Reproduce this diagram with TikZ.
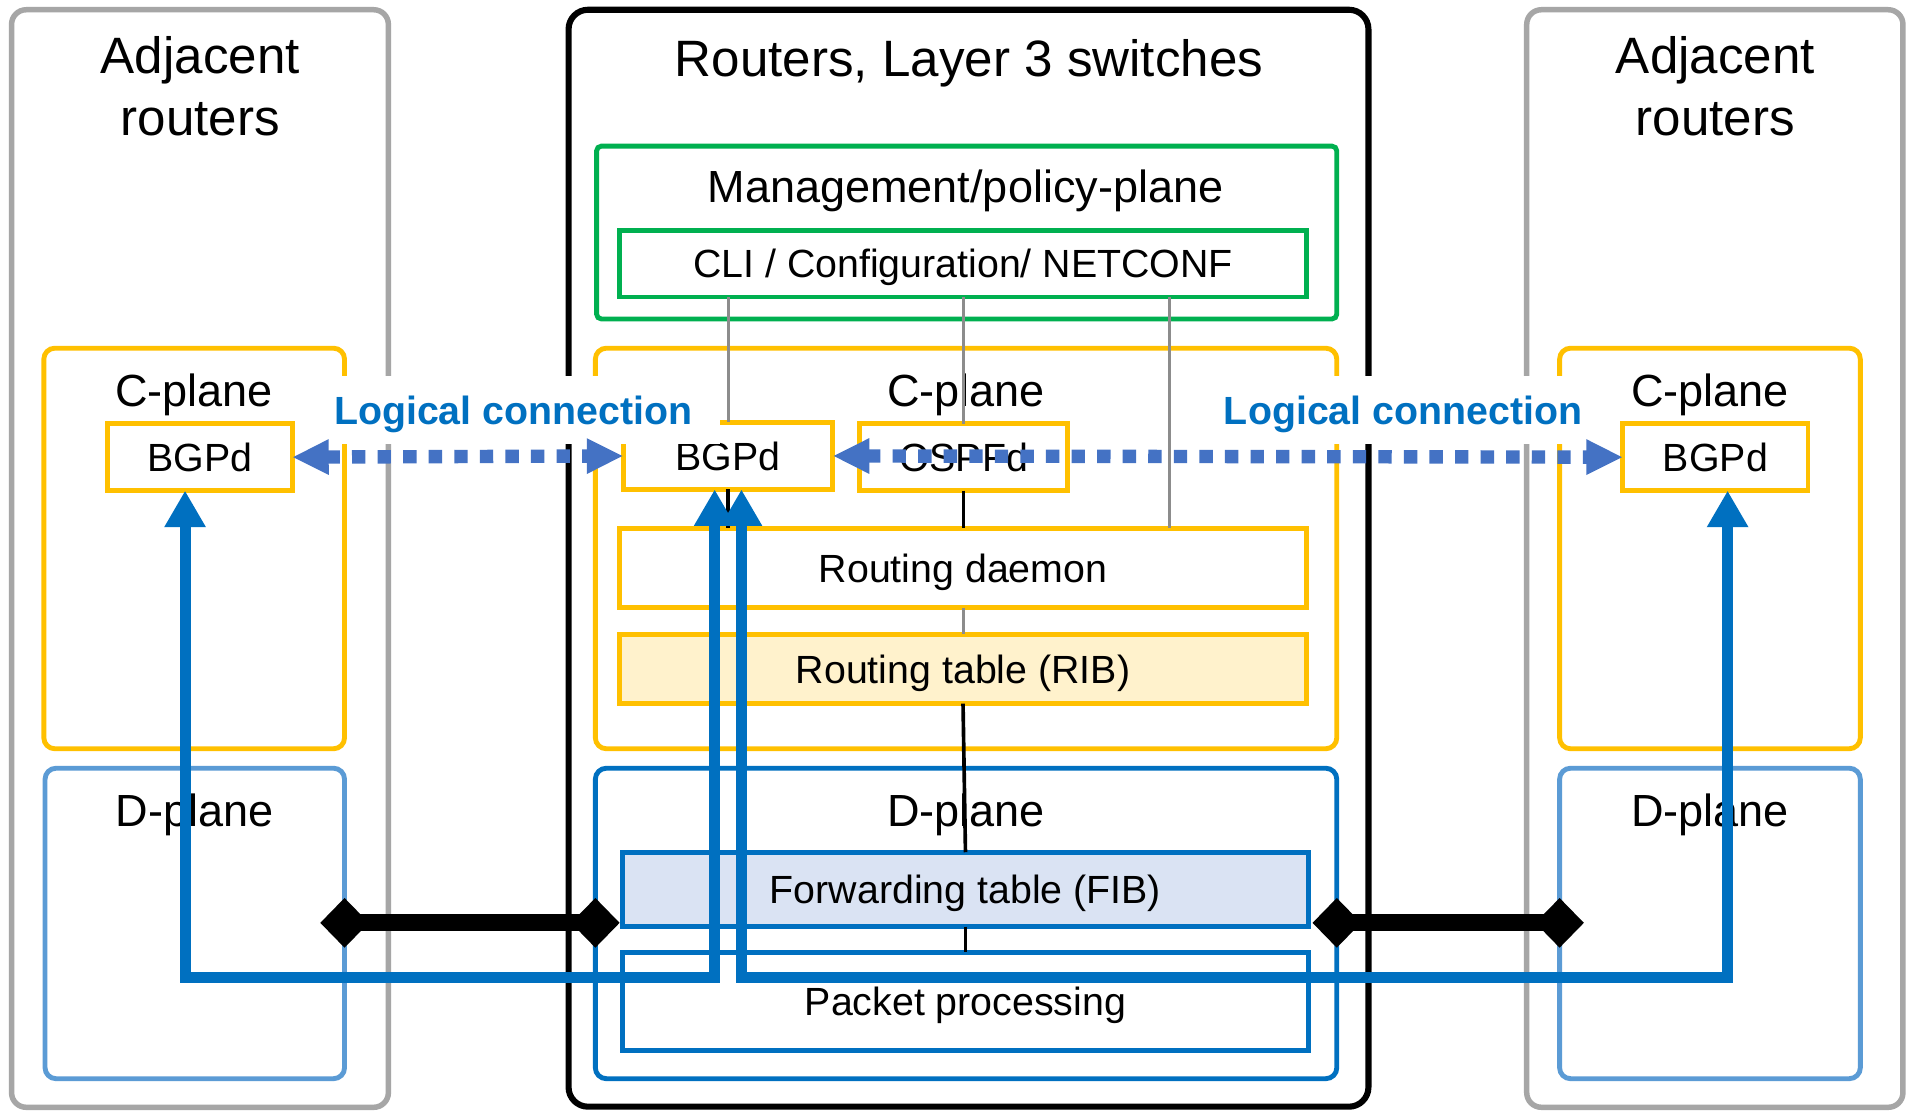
\documentclass[tikz,border=0pt]{standalone}
\usepackage{fontspec}
\setmainfont{Liberation Sans}
\usetikzlibrary{arrows.meta,shapes.geometric,calc}
\definecolor{cgray}{HTML}{A6A6A6}
\definecolor{cgreen}{HTML}{00B050}
\definecolor{cyellow}{HTML}{FFC000}
\definecolor{cblue}{HTML}{0070C0}
\definecolor{clblue}{HTML}{5B9BD5}
\definecolor{cdot}{HTML}{4472C4}
\definecolor{ribfill}{HTML}{FFF2CC}
\definecolor{fibfill}{HTML}{DAE3F3}
\definecolor{thinline}{HTML}{8C8C8C}
\newcommand{\mybox}[7][]{%
  \pgfmathsetmacro{\mybw}{#5-#3}\pgfmathsetmacro{\mybh}{#6-#4}%
  \node[#1, minimum width=\mybw pt, minimum height=\mybh pt] (#2) at ({(#3+#5)/2},{-(#4+#6)/2}) {#7};}
\tikzset{
  base box/.style={draw, inner sep=0pt, outer sep=0pt, line width=4pt},
  outergray/.style={base box, draw=cgray, line width=4.5pt, rounded corners=12pt},
  outerblack/.style={base box, draw=black, line width=5pt, rounded corners=16pt},
  planey/.style={base box, draw=cyellow, rounded corners=9pt},
  planeg/.style={base box, draw=cgreen, rounded corners=4pt},
  planeb/.style={base box, draw=cblue, rounded corners=9pt},
  planelb/.style={base box, draw=clblue, rounded corners=9pt},
  inbox/.style={base box, text height=23.1pt, text depth=0pt, font=\fontsize{32.3}{38}\selectfont},
  ybox/.style={inbox, draw=cyellow},
  gbox/.style={inbox, draw=cgreen},
  bbox/.style={inbox, draw=cblue},
  titletext/.style={anchor=base, inner sep=0pt, font=\fontsize{42}{50}\selectfont},
  planetext/.style={anchor=base, inner sep=0pt, font=\fontsize{37}{44}\selectfont},
  lctext/.style={fill=white, inner sep=0pt, minimum width=340pt, minimum height=56pt, text height=23.1pt, text depth=0pt, text=cblue, font=\fontsize{32.3}{38}\selectfont\bfseries},
  thing/.style={draw=thinline, line width=2.5pt},
  thinb/.style={draw=black, line width=3pt},
  dotarrow/.style={draw=cdot, line width=11pt, dash pattern=on 11pt off 10pt, arrows={Triangle[length=30pt,width=27pt]-Triangle[length=30pt,width=27pt]}},
  barrow/.style={draw=cblue, line width=9pt, arrows={Triangle[length=30pt,width=32pt]-Triangle[length=30pt,width=32pt]}},
  dia/.style={shape=diamond, fill=black, inner sep=0pt, minimum width=40pt, minimum height=41pt},
  diaconn/.style={draw=black, line width=14pt}
}
\begin{document}
\begin{tikzpicture}[x=1pt,y=1pt]
\useasboundingbox (0,0) rectangle (1568,-912);
\fill[white] (0,0) rectangle (1568,-912);
% outer boxes
\mybox[outergray]{lout}{9.5}{8}{319}{909.5}{}
\mybox[outergray]{rout}{1254}{8}{1563}{909.5}{}
\mybox[outerblack]{cout}{467}{8}{1124}{909}{}
\node[titletext] (lt1) at (164.5,-60) {Adjacent};
\node[titletext] (lt2) at (164.5,-111) {routers};
\node[titletext] (rt1) at (1409,-60) {Adjacent};
\node[titletext] (rt2) at (1409,-111) {routers};
\node[titletext] (ct) at (796,-63) {Routers, Layer 3 switches};
% planes
\mybox[planey]{lcp}{36}{286}{283}{615}{}
\mybox[planelb]{ldp}{37}{631}{283}{886}{}
\mybox[planey]{rcp}{1281}{286}{1528}{615}{}
\mybox[planelb]{rdp}{1281}{631}{1528}{886}{}
\mybox[planeg]{mgmt}{490}{120}{1098}{262}{}
\mybox[planey]{ccp}{489}{286}{1098}{615}{}
\mybox[planeb]{cdp}{489}{631}{1098}{886}{}
\node[planetext] (lcpt) at (159.5,-334) {C-plane};
\node[planetext] (ldpt) at (160,-679) {D-plane};
\node[planetext] (rcpt) at (1404.5,-334) {C-plane};
\node[planetext] (rdpt) at (1404.5,-679) {D-plane};
\node[planetext] (mgmtt) at (793,-166) {Management/policy-plane};
\node[planetext] (ccpt) at (793.5,-334) {C-plane};
\node[planetext] (cdpt) at (793.5,-679) {D-plane};
% inner boxes
\mybox[gbox]{cli}{509}{189}{1073}{244}{CLI / Configuration/ NETCONF}
\mybox[ybox]{lbgp}{88}{348}{240}{403}{BGPd}
\mybox[ybox]{rbgp}{1333}{348}{1485}{403}{BGPd}
\mybox[ybox]{cbgp}{512}{347}{684}{402}{BGPd}
\mybox[ybox]{ospf}{706}{348}{877}{403}{OSPFd}
\mybox[ybox]{rd}{509}{434}{1073}{499}{Routing daemon}
\mybox[ybox, fill=ribfill]{rib}{509}{521}{1073}{578}{Routing table (RIB)}
\mybox[bbox, fill=fibfill]{fib}{511}{700}{1075}{761}{Forwarding table (FIB)}
\mybox[bbox]{pkt}{511}{782}{1075}{863}{Packet processing}
% thin connecting lines
\coordinate (g3) at ($(cli.south west)!0.8!(cli.south east)$);
\draw[thing] (cli.south -| cbgp.north) -- (cbgp.north);
\draw[thing] (cli.south -| ospf.north) -- (ospf.north);
\draw[thing] (g3) -- (g3 |- rd.north);
\draw[thinb] (cbgp.south) -- (cbgp.south |- rd.north);
\draw[thinb] (ospf.south) -- (ospf.south |- rd.north);
\draw[thing] (rd.south) -- (rib.north);
\draw[thinb] (rib.south) -- (fib.north);
\draw[thinb] (fib.south) -- (pkt.north);
% labels
\node[lctext] (lc1) at (421.5,-337) {Logical connection};
\node[lctext] (lc2) at (1152.5,-337) {Logical connection};
% dotted logical connections
\draw[dotarrow] (lbgp.east) -- (cbgp.west);
\draw[dotarrow] (cbgp.east) -- (rbgp.west);
% physical links
\coordinate (yd) at (0,-758);
\node[dia] (dm1) at (ldp.east |- yd) {};
\node[dia] (dm2) at (cdp.west |- yd) {};
\node[dia] (dm3) at (cdp.east |- yd) {};
\node[dia] (dm4) at (rdp.west |- yd) {};
\draw[diaconn] (dm1.center) -- (dm2.center);
\draw[diaconn] (dm3.center) -- (dm4.center);
% blue paths
\coordinate (yb) at (0,-803);
\coordinate (a1) at ($(cbgp.south)+(-11,0)$);
\coordinate (a2) at ($(lbgp.south)+(-12,0)$);
\coordinate (b1) at ($(cbgp.south)+(11,0)$);
\coordinate (b2) at ($(rbgp.south)+(10,0)$);
\draw[barrow] (a1) -- (a1 |- yb) -- (a2 |- yb) -- (a2);
\draw[barrow] (b1) -- (b1 |- yb) -- (b2 |- yb) -- (b2);
\end{tikzpicture}
\end{document}
